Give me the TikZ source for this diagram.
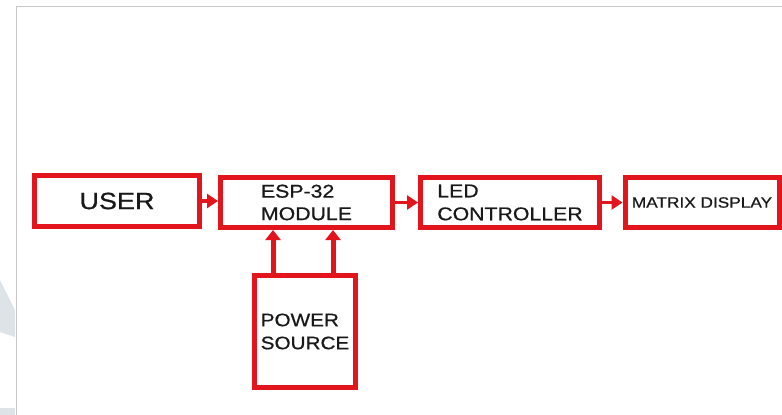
\documentclass[tikz,border=0pt]{standalone}
\usepackage{fontspec}
\setmainfont[FakeStretch=1.15,FakeBold=0.7]{Liberation Sans}
\usetikzlibrary{arrows.meta}
\definecolor{boxred}{RGB}{226,20,28}
\definecolor{framegray}{RGB}{200,200,200}
\definecolor{markgray}{RGB}{222,227,231}
\definecolor{txt}{RGB}{25,25,25}
\tikzset{
  blk/.style={draw=boxred, line width=5pt, rectangle, inner sep=0pt, fill=white, text=txt},
  harrow/.style={draw=boxred, line width=3.5pt, -{Triangle[width=14pt,length=11pt]}, color=boxred},
  varrow/.style={draw=boxred, line width=5pt, -{Triangle[width=15pt,length=10pt]}, color=boxred},
}
\begin{document}
\begin{tikzpicture}[x=1pt,y=-1pt]
\useasboundingbox (0,0) rectangle (782,415);
\fill[white] (0,0) rectangle (782,415);
% faint watermark shapes
\fill[markgray] (0,280) -- (15,310) -- (15,337) -- (0,332) -- cycle;
\fill[markgray] (0,408) rectangle (15,415);
% frame
\draw[framegray, line width=1.2pt] (16.5,415) -- (16.5,6.5) -- (782,6.5);
% blocks
\node[blk, minimum width=165pt, minimum height=51pt, font=\fontsize{23.5}{26}\selectfont] (user) at (117,201) {USER};
\node[blk, minimum width=172pt, minimum height=50pt, align=left, font=\fontsize{18.5}{22.5}\selectfont] (esp) at (306.5,202.5) {ESP-32\\MODULE};
\node[blk, minimum width=179pt, minimum height=50pt, align=left, font=\fontsize{18.5}{23}\selectfont] (led) at (510,202.5) {LED\\CONTROLLER};
\node[blk, minimum width=154pt, minimum height=50pt, font=\fontsize{15}{18}\selectfont] (matrix) at (702,202.5) {MATRIX DISPLAY};
\node[blk, minimum width=101pt, minimum height=112pt, align=left, font=\fontsize{18}{23}\selectfont] (power) at (305,331.5) {POWER\\SOURCE};
% connectors
\draw[harrow] (user.east) -- (user.east -| esp.west);
\draw[harrow] (esp.east) -- (esp.east -| led.west);
\draw[harrow] (led.east) -- (led.east -| matrix.west);
\draw[varrow] ([xshift=-32pt]power.north) -- ([xshift=-32pt]power.north |- esp.south);
\draw[varrow] ([xshift=28pt]power.north) -- ([xshift=28pt]power.north |- esp.south);
\end{tikzpicture}
\end{document}
